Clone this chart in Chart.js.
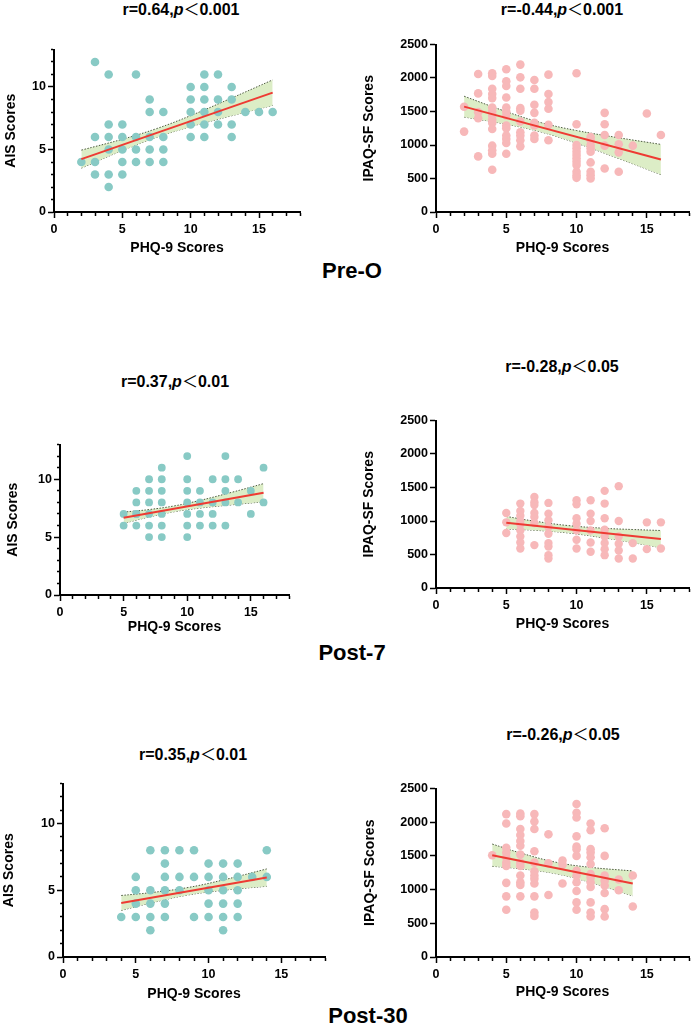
<!DOCTYPE html>
<html><head><meta charset="utf-8">
<script src="https://cdn.jsdelivr.net/npm/chart.js@4.4.0/dist/chart.umd.min.js"></script>
<style>
html,body{margin:0;padding:0;background:#fff;}
#wrap{position:relative;width:694px;height:1030px;overflow:hidden;font-family:"Liberation Sans",Arial,sans-serif;}
canvas{position:absolute;}
.t{position:absolute;transform:translate(-50%,-50%);white-space:nowrap;font-weight:bold;line-height:1;color:#000;}
.title{font-size:16px;}
.row{font-size:22px;}
.lt{font-family:"Noto Sans CJK SC","Noto Sans CJK JP",sans-serif;font-weight:normal;}
</style></head><body><div id="wrap"></div>
<script>
// ---------- DATA ----------
const xTitle = 'PHQ-9 Scores';
const aisTitle = 'AIS Scores';
const ipaqTitle = 'IPAQ-SF Scores';
const rowLabels = ['Pre-O', 'Post-7', 'Post-30'];
const panelTitles = [
  ['0.64', '0.001'], ['-0.44', '0.001'],
  ['0.37', '0.01'], ['-0.28', '0.05'],
  ['0.35', '0.01'], ['-0.26', '0.05']
];

// Pre-O : AIS vs PHQ-9 (points grouped by PHQ-9 value)
const preAisPhq = [2,3,4,5,6,7,8,10,11,12,13,14,15,16];
const preAisVals = [[4],[12,6,4,3],[11,7,6,5,3,2],[7,6,5,4,3],[11,6,5,4],[9,8,6,5,4],[8,6,5,4],
  [10,9,8,7,6],[11,10,9,8,7,6],[11,9,8,7],[10,9,7,6],[8],[8],[8]];
const preAisFitX = [2,16], preAisFitY = [4.23,9.55];
const preAisBandX = [2,5,7.5,10,13,16];
const preAisBandHi = [4.95,5.82,6.67,7.71,9.12,10.57];
const preAisBandLo = [3.51,4.92,5.97,6.83,7.70,8.53];

// Pre-O : IPAQ-SF vs PHQ-9
const preIpaqPhq = [2,3,4,5,6,7,8,10,11,12,13,14,15,16];
const preIpaqVals = [[1570,1200],[2060,1770,1490,1400,830],
  [2070,2030,1840,1760,1700,1560,1500,1440,1380,1330,1240,990,920,870,630],
  [2130,1950,1880,1710,1560,1500,1440,1290,1250,1140,1090,1030,870],
  [2200,2010,1840,1550,1510,1350,1190,1140,1070,980],
  [1970,1840,1600,1480,1330,1290,1140,1090],
  [2050,1760,1640,1540,1300,1070],
  [2070,1310,1000,950,900,850,800,750,700,600,550,510],
  [1120,1070,1000,950,900,740,600,550,500],
  [1480,1310,1150,990,650],[1150,1010,890,600],[990],[1470],[1150]];
const preIpaqFitX = [2,16], preIpaqFitY = [1573,784];
const preIpaqBandX = [2,5,7.5,10,13,16];
const preIpaqBandHi = [1728,1498,1333,1216,1108,1009];
const preIpaqBandLo = [1418,1310,1193,1028,798,559];

// Post-7 : AIS vs PHQ-9
const p7AisPhq = [5,6,7,8,10,11,12,13,14,15,16];
const p7AisVals = [[7,6],[9,8,7,7,6],[10,9,8,7,6,5],[11,10,9,8,7,6,5],[12,10,9,8,7,6,5],
  [9,8,7,6],[10,8,7,6],[12,10,9,8,6],[10,8],[9,7],[11,8]];
const p7AisFitX = [5,16], p7AisFitY = [6.67,8.83];
const p7AisBandX = [5,7,9,11,13.5,16];
const p7AisBandHi = [7.16,7.38,7.70,8.17,8.87,9.62];
const p7AisBandLo = [6.19,6.74,7.20,7.51,7.79,8.05];

// Post-7 : IPAQ-SF vs PHQ-9
const p7IpaqPhq = [5,6,7,8,10,11,12,13,14,15,16];
const p7IpaqVals = [[1120,980,820],[1260,1150,1080,1000,950,860,770,680,590],
  [1360,1280,1240,1120,1060,970,640],[1270,1110,1010,910,810,670,620,490,440],
  [1310,1250,1040,960,860,720,590],[1310,1110,1000,860,680,540],
  [1450,1260,1040,870,770,670,580,490],[1520,1000,770,660,560,440],
  [670,440],[980,580],[980,590]];
const p7IpaqFitX = [5,16], p7IpaqFitY = [975,730];
const p7IpaqBandX = [5,7,9.35,12,14,16];
const p7IpaqBandHi = [1068,998,933,891,873,858];
const p7IpaqBandLo = [882,862,823,747,677,602];

// Post-30 : AIS vs PHQ-9
const p30AisPhq = [4,5,6,7,8,9,10,11,12,13,14];
const p30AisVals = [[3],[6,5,4,3],[8,5,4,3,2],[8,7,6,5,4,3],[8,6,5],[8,6,3],[7,6,5,4,3],
  [7,6,5,4,3,2],[7,6,5,4,3],[6],[8,6]];
const p30AisFitX = [4,14], p30AisFitY = [4.05,5.95];
const p30AisBandX = [4,6,8.5,11,14];
const p30AisBandHi = [4.61,4.82,5.19,5.77,6.60];
const p30AisBandLo = [3.49,4.04,4.63,5.00,5.30];

// Post-30 : IPAQ-SF vs PHQ-9
const p30IpaqPhq = [4,5,6,7,8,9,10,11,12,13,14];
const p30IpaqVals = [[1510],[2120,1980,1620,1550,1480,1400,1350,1100,900,700],
  [2130,2090,1900,1810,1720,1650,1520,1400,1350,1210,1110,1070,900],
  [2120,2010,1900,1570,1400,1270,1210,1160,1090,900,660,610],
  [1820,1390,920],[1430,1370,1090],
  [2270,2140,2070,1790,1640,1600,1500,1280,1210,1110,980,810,700],
  [1980,1880,1600,1550,1480,1380,1230,1180,1110,1040,810,660,600],
  [1910,1500,1210,1130,1060,950,710,600],[1150,990],[1210,750]];
const p30IpaqFitX = [4,14], p30IpaqFitY = [1511,1092];
const p30IpaqBandX = [4,6,8.6,11,14];
const p30IpaqBandHi = [1676,1544,1403,1330,1277];
const p30IpaqBandLo = [1346,1310,1233,1106,907];

const xTicks = {min:0, max:18, step:1, major:5};
const aisTicks = {min:0, max:13, step:1, major:5};
const ipaqTicks = {min:0, max:2500, step:500, major:500};

// ---------- STYLE / LAYOUT ----------
const FAM = '"Liberation Sans", Arial, sans-serif';
const TEAL = '#88CAC5', PINK = '#F7B8B9', BAND = '#DCEDC6', RED = '#EE3B33', BANDLINE = '#4d5a40';

const panels = [
  {L:54,T:48,R:300,B:212, yt:11, xt:249, ttl:[181,9],  yTitle:aisTitle, yt2:aisTicks, color:TEAL, r:4.3,
   phq:preAisPhq, vals:preAisVals, fx:preAisFitX, fy:preAisFitY, bx:preAisBandX, bh:preAisBandHi, bl:preAisBandLo},
  {L:436,T:43,R:689,B:212, yt:369, xt:249, ttl:[562,9], yTitle:ipaqTitle, yt2:ipaqTicks, color:PINK, r:4.3,
   phq:preIpaqPhq, vals:preIpaqVals, fx:preIpaqFitX, fy:preIpaqFitY, bx:preIpaqBandX, bh:preIpaqBandHi, bl:preIpaqBandLo},
  {L:60,T:443,R:289,B:595, yt:13, xt:628, ttl:[175,381], yTitle:aisTitle, yt2:aisTicks, color:TEAL, r:3.9,
   phq:p7AisPhq, vals:p7AisVals, fx:p7AisFitX, fy:p7AisFitY, bx:p7AisBandX, bh:p7AisBandHi, bl:p7AisBandLo},
  {L:436,T:419,R:689,B:588, yt:369, xt:625, ttl:[562,366], yTitle:ipaqTitle, yt2:ipaqTicks, color:PINK, r:4.2,
   phq:p7IpaqPhq, vals:p7IpaqVals, fx:p7IpaqFitX, fy:p7IpaqFitY, bx:p7IpaqBandX, bh:p7IpaqBandHi, bl:p7IpaqBandLo},
  {L:63,T:782,R:325,B:957, yt:9, xt:995, ttl:[193,754], yTitle:aisTitle, yt2:aisTicks, color:TEAL, r:4.3,
   phq:p30AisPhq, vals:p30AisVals, fx:p30AisFitX, fy:p30AisFitY, bx:p30AisBandX, bh:p30AisBandHi, bl:p30AisBandLo},
  {L:436,T:787,R:689,B:957, yt:370, xt:993, ttl:[563,734], yTitle:ipaqTitle, yt2:ipaqTicks, color:PINK, r:4.3,
   phq:p30IpaqPhq, vals:p30IpaqVals, fx:p30IpaqFitX, fy:p30IpaqFitY, bx:p30IpaqBandX, bh:p30IpaqBandHi, bl:p30IpaqBandLo}
];
const rowPos = [[352,271],[352,653],[368,1016]];

const wrap = document.getElementById('wrap');
function addText(cls, html, x, y){
  const d = document.createElement('div');
  d.className = 't ' + cls; d.innerHTML = html;
  d.style.left = x + 'px'; d.style.top = y + 'px';
  wrap.appendChild(d);
}
function toPts(xs, ys){ return xs.map((x,i)=>({x:x, y:ys[i]})); }
function colPts(xs, cols){ const o=[]; xs.forEach((x,i)=>cols[i].forEach(y=>o.push({x:x,y:y}))); return o; }

const TL = 6, TLMIN = 3;
function scaleOpts(t, pos, title, fitFn){
  const isMinor = c => c.tick && (Math.round(c.tick.value) % t.major !== 0);
  return {
    type:'linear', position:pos, min:t.min, max:t.max,
    afterFit: fitFn,
    ticks:{stepSize:t.step, autoSkip:false, maxRotation:0, padding: pos==='bottom'?4:2,
      color:'#000', font:{family:FAM, size:12.5, weight:'bold'},
      callback: v => (Math.round(v) % t.major === 0 ? String(v) : '')},
    grid:{display:true, drawOnChartArea:false, drawTicks:true, tickLength:TL,
      tickColor:'#000', tickWidth:1.5,
      tickBorderDash: c => isMinor(c) ? (pos==='bottom' ? [TLMIN,100] : [0, TL-TLMIN, TLMIN, 100]) : []},
    border:{display:true, color:'#000', width:2},
    title:{display:true, text:title, color:'#000', padding:0, font:{family:FAM, size:14, weight:'bold'}}
  };
}

panels.forEach((p, i) => {
  const cl = Math.round(p.yt - 8.4);
  const ct = p.T - 8;
  const cr = p.R + 6;
  const cb = Math.round(p.xt + 8.4);
  const yw = p.L - cl, hx = cb - p.B;
  const cv = document.createElement('canvas');
  cv.width = cr - cl; cv.height = cb - ct;
  cv.style.left = cl + 'px'; cv.style.top = ct + 'px';
  wrap.appendChild(cv);
  new Chart(cv.getContext('2d'), {
    type:'scatter',
    data:{datasets:[
      {data:toPts(p.fx, p.fy), showLine:true, borderColor:RED, borderWidth:2, pointRadius:0, order:0},
      {data:colPts(p.phq, p.vals), backgroundColor:p.color, borderWidth:0, pointRadius:p.r, order:1},
      {data:toPts(p.bx, p.bh), showLine:true, borderColor:BANDLINE, borderWidth:1, borderDash:[1.5,1.5],
       tension:0.4, pointRadius:0, fill:'+1', backgroundColor:BAND, order:2},
      {data:toPts(p.bx, p.bl), showLine:true, borderColor:BANDLINE, borderWidth:1, borderDash:[1.5,1.5],
       tension:0.4, pointRadius:0, fill:false, order:3}
    ]},
    options:{
      responsive:false, animation:false, events:[],
      layout:{padding:{top:8, right:6, left:0, bottom:0}},
      plugins:{legend:{display:false}, tooltip:{enabled:false}},
      scales:{
        x: scaleOpts(xTicks, 'bottom', xTitle, s => { s.height = hx; }),
        y: scaleOpts(p.yt2, 'left', p.yTitle, s => { s.width = yw; })
      }
    }
  });
  const tt = panelTitles[i];
  addText('title', 'r=' + tt[0] + ',<i>p</i><span class="lt">\uFF1C</span>' + tt[1], p.ttl[0], p.ttl[1]);
});
rowLabels.forEach((lab, i) => addText('row', lab, rowPos[i][0], rowPos[i][1]));
</script></body></html>
